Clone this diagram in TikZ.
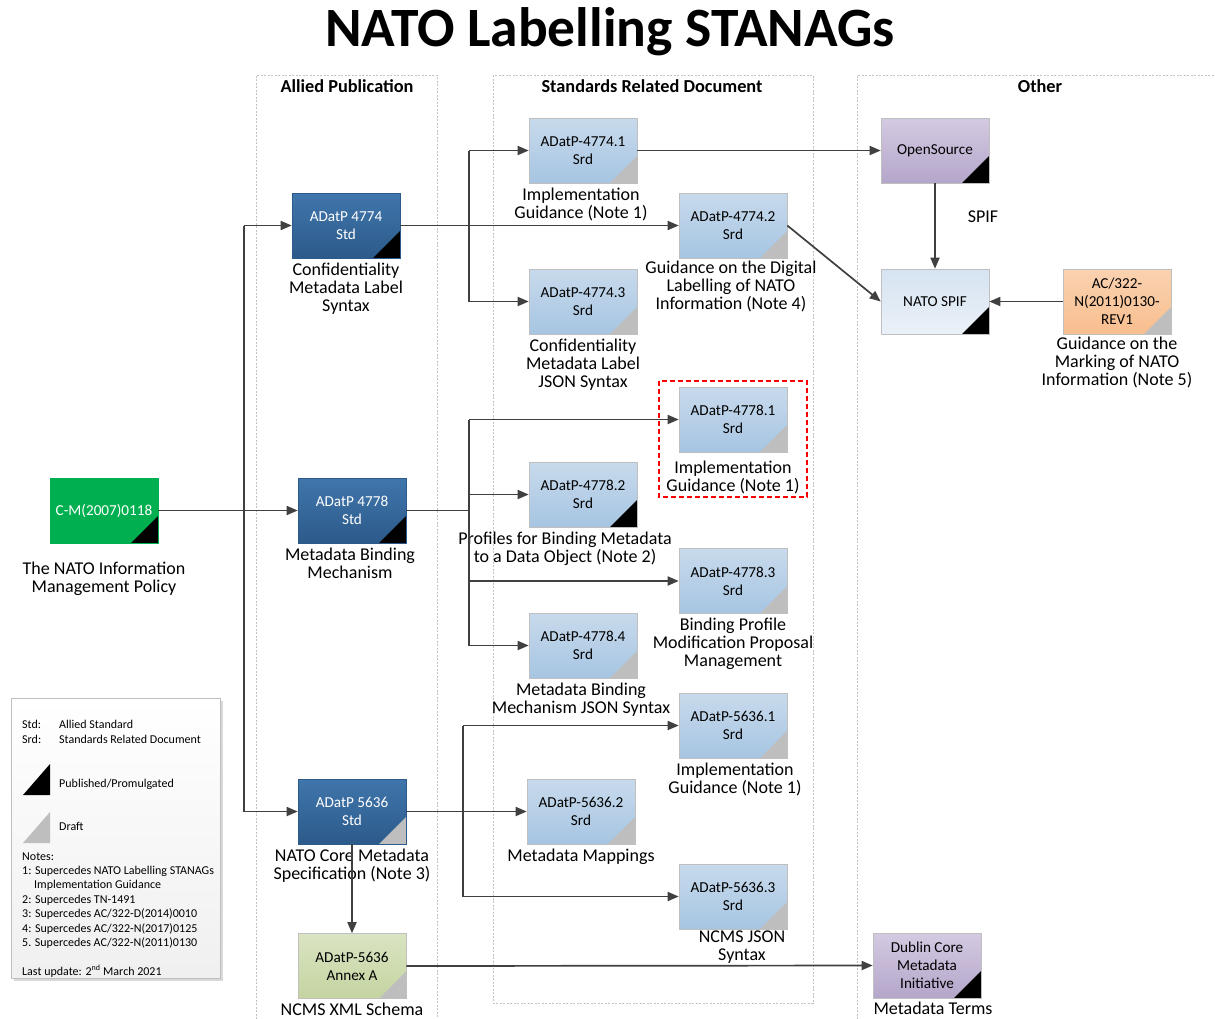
\documentclass[tikz,border=0pt]{standalone}
\usepackage{fontspec}
\setmainfont{Carlito}
\usetikzlibrary{arrows.meta,positioning}
\definecolor{conncol}{RGB}{64,64,64}
\definecolor{stdtop}{RGB}{64,118,172}
\definecolor{stdbot}{RGB}{44,90,138}
\definecolor{srdtop}{RGB}{200,218,236}
\definecolor{srdbot}{RGB}{166,197,226}
\definecolor{purtop}{RGB}{212,202,226}
\definecolor{purbot}{RGB}{180,166,202}
\definecolor{spiftop}{RGB}{214,227,241}
\definecolor{spifbot}{RGB}{234,241,248}
\definecolor{peachtop}{RGB}{250,210,176}
\definecolor{peachbot}{RGB}{248,190,142}
\definecolor{anntop}{RGB}{218,228,194}
\definecolor{annbot}{RGB}{196,212,160}
\definecolor{cmgreen}{RGB}{0,176,80}
\definecolor{draftgrey}{RGB}{190,190,190}
\definecolor{colline}{RGB}{195,195,195}
\begin{document}
\begin{tikzpicture}[x=1pt,y=-1pt,
  doc/.style={minimum width=108pt,minimum height=65pt,inner sep=0pt,align=center,
    font=\fontsize{15.2}{18}\selectfont,draw=gray!50,line width=0.6pt},
  pub/.style={path picture={\fill[black] (path picture bounding box.south east) -- ++(-27pt,0pt) -- ++(27pt,27pt) -- cycle;}},
  draft/.style={path picture={\fill[draftgrey] (path picture bounding box.south east) -- ++(-27pt,0pt) -- ++(27pt,27pt) -- cycle;}},
  stdbox/.style={doc,top color=stdtop,bottom color=stdbot,text=white,draw=stdbot},
  srdbox/.style={doc,top color=srdtop,bottom color=srdbot},
  purbox/.style={doc,top color=purtop,bottom color=purbot},
  lbl/.style={font=\fontsize{18}{18}\selectfont,align=center,inner sep=0pt},
  hdr/.style={font=\fontsize{18.3}{20}\selectfont\bfseries,inner sep=0pt},
  leg/.style={font=\fontsize{12}{13}\selectfont,inner sep=0pt},
  conn/.style={draw=conncol,line width=1.7pt,-{Triangle[length=11pt,width=9pt]}},
  line/.style={draw=conncol,line width=1.7pt},
  colbox/.style={draw=colline,line width=0.8pt,dash pattern=on 2pt off 1.5pt}
]
\useasboundingbox (0,0) rectangle (1215,1018);
\clip (0,0) rectangle (1215,1018);
\fill[white] (0,0) rectangle (1215,1018);

% title
\node[font=\fontsize{55.5}{60}\selectfont\bfseries,inner sep=0pt] (title) at (610,32) {NATO Labelling STANAGs};

% columns
\draw[colbox] (256,1040) -- (256,75) -- (437,75) -- (437,1040);
\draw[colbox] (493,75) rectangle (813,1003);
\draw[colbox] (857,1040) -- (857,75) -- (1230,75);
\node[hdr] (h1) at (347,86) {Allied Publication};
\node[hdr] (h2) at (652,86) {Standards Related Document};
\node[hdr] (h3) at (1040,86) {Other};

% legend
\fill[gray!30] (14,701) rectangle (223,981);
\draw[gray!50,line width=0.6pt,top color=white,bottom color=gray!12] (11,698) rectangle (220,978);
\node[leg,anchor=base west] (lg1) at (22,728) {Std:};
\node[leg,anchor=base west] (lg1b) at (59,728) {Allied Standard};
\node[leg,anchor=base west] (lg2) at (22,743) {Srd:};
\node[leg,anchor=base west] (lg2b) at (59,743) {Standards Related Document};
\fill[black] (23,795) -- (50,795) -- (50,764) -- cycle;
\node[leg,anchor=base west] (lg3) at (59,787) {Published/Promulgated};
\fill[draftgrey] (23,843) -- (50,843) -- (50,812) -- cycle;
\node[leg,anchor=base west] (lg4) at (59,830) {Draft};
\node[leg,anchor=base west] (lg5) at (22,860) {Notes:};
\node[leg,anchor=base west] (lg6) at (22,874) {1: Supercedes NATO Labelling STANAGs};
\node[leg,anchor=base west] (lg7) at (34,888) {Implementation Guidance};
\node[leg,anchor=base west] (lg8) at (22,903) {2: Supercedes TN-1491};
\node[leg,anchor=base west] (lg9) at (22,917) {3: Supercedes AC/322-D(2014)0010};
\node[leg,anchor=base west] (lg10) at (22,932) {4: Supercedes AC/322-N(2017)0125};
\node[leg,anchor=base west] (lg11) at (22,946) {5. Supercedes AC/322-N(2011)0130};
\node[leg,anchor=base west] (lg12) at (22,975) {Last update: 2\textsuperscript{nd} March 2021};

% red highlight
\draw[red,line width=2.2pt,dash pattern=on 5pt off 3pt] (659,381) rectangle (807,497);

% boxes
\node[doc,fill=cmgreen,text=white,draw=cmgreen,pub] (cm) at (104,510.5) {C-M(2007)0118};
\node[stdbox,pub] (s4774) at (346,225.5) {ADatP 4774\\Std};
\node[stdbox,pub] (s4778) at (352,510.5) {ADatP 4778\\Std};
\node[stdbox,draft] (s5636) at (352,811.5) {ADatP 5636\\Std};
\node[doc,top color=anntop,bottom color=annbot,draft] (ann) at (352,966) {ADatP-5636\\Annex A};
\node[srdbox,draft] (a1) at (583,150.5) {ADatP-4774.1\\Srd};
\node[srdbox,draft] (a2) at (733,225.5) {ADatP-4774.2\\Srd};
\node[srdbox,draft] (a3) at (583,301.5) {ADatP-4774.3\\Srd};
\node[srdbox,draft] (b1) at (733,419.5) {ADatP-4778.1\\Srd};
\node[srdbox,pub] (b2) at (583,494.5) {ADatP-4778.2\\Srd};
\node[srdbox,draft] (b3) at (733,581) {ADatP-4778.3\\Srd};
\node[srdbox,draft] (b4) at (583,645.5) {ADatP-4778.4\\Srd};
\node[srdbox,draft] (c1) at (733,725.5) {ADatP-5636.1\\Srd};
\node[srdbox,draft] (c2) at (581,811.5) {ADatP-5636.2\\Srd};
\node[srdbox,draft] (c3) at (733,896.5) {ADatP-5636.3\\Srd};
\node[purbox,pub] (os) at (935,150.5) {OpenSource};
\node[doc,top color=spiftop,bottom color=spifbot,pub] (spif) at (935,301.5) {NATO SPIF};
\node[doc,top color=peachtop,bottom color=peachbot,draft] (ac) at (1117,301.5) {AC/322-\\N(2011)0130-\\REV1};
\node[purbox,pub] (dc) at (927,965.5) {Dublin Core\\Metadata\\Initiative};

% labels
\node[lbl,anchor=north] (cml) at (104,562) {The NATO Information\\Management Policy};
\node[lbl,below=4pt of s4774] (s4774l) {Confidentiality\\Metadata Label\\Syntax};
\node[lbl,below=4pt of s4778,xshift=-2pt] (s4778l) {Metadata Binding\\Mechanism};
\node[lbl,below=4pt of s5636] (s5636l) {NATO Core Metadata\\Specification (Note 3)};
\node[lbl,below=4pt of ann] (annl) {NCMS XML Schema};
\node[lbl,below=4pt of a1,xshift=-2pt] (a1l) {Implementation\\Guidance (Note 1)};
\node[lbl,below=2pt of a2,xshift=-2pt] (a2l) {Guidance on the Digital\\Labelling of NATO\\Information (Note 4)};
\node[lbl,below=4pt of a3] (a3l) {Confidentiality\\Metadata Label\\JSON Syntax};
\node[lbl,below=8pt of b1] (b1l) {Implementation\\Guidance (Note 1)};
\node[lbl,below=4pt of b2,xshift=-18pt] (b2l) {Profiles for Binding Metadata\\to a Data Object (Note 2)};
\node[lbl,below=4pt of b3] (b3l) {Binding Profile\\Modification Proposal\\Management};
\node[lbl,below=4pt of b4,xshift=-2pt] (b4l) {Metadata Binding\\Mechanism JSON Syntax};
\node[lbl,below=4pt of c1,xshift=2pt] (c1l) {Implementation\\Guidance (Note 1)};
\node[lbl,below=4pt of c2] (c2l) {Metadata Mappings};
\node[lbl,below=1pt of c3,xshift=9pt] (c3l) {NCMS JSON\\Syntax};
\node[lbl,below=2pt of ac] (acl) {Guidance on the\\Marking of NATO\\Information (Note 5)};
\node[lbl,below=3pt of dc,xshift=6pt] (dcl) {Metadata Terms};
\node[lbl] (spifl) at (983,217) {SPIF};

% junction coordinates
\coordinate (j1) at (244,0);
\coordinate (j2) at (469,0);
\coordinate (j3) at (469,0);
\coordinate (j4) at (463,0);

% connectors
\draw[conn] (cm.east) -- (s4778.west);
\draw[line] (j1 |- s4774.west) -- (j1 |- s5636.west);
\draw[conn] (j1 |- s4774.west) -- (s4774.west);
\draw[conn] (j1 |- s5636.west) -- (s5636.west);

\draw[conn] (s4774.east) -- (a2.west);
\draw[line] (j2 |- a1.west) -- (j2 |- a3.west);
\draw[conn] (j2 |- a1.west) -- (a1.west);
\draw[conn] (j2 |- a3.west) -- (a3.west);
\draw[conn] (a1.east) -- (os.west);
\draw[conn] (a2.east) -- (spif.west);
\draw[conn] (os.south) -- (spif.north);
\draw[conn] (ac.west) -- (spif.east);

\draw[line] (s4778.east) -- (j3 |- s4778.east);
\draw[line] (j3 |- b1.west) -- (j3 |- b4.west);
\draw[conn] (j3 |- b1.west) -- (b1.west);
\draw[conn] (j3 |- b2.west) -- (b2.west);
\draw[conn] (j3 |- b3.west) -- (b3.west);
\draw[conn] (j3 |- b4.west) -- (b4.west);

\draw[conn] (s5636.east) -- (c2.west);
\draw[line] (j4 |- c1.west) -- (j4 |- c3.west);
\draw[conn] (j4 |- c1.west) -- (c1.west);
\draw[conn] (j4 |- c3.west) -- (c3.west);
\draw[conn] (s5636.south) -- (ann.north);
\draw[conn] (ann.east) -- (dc.west);
\end{tikzpicture}
\end{document}
